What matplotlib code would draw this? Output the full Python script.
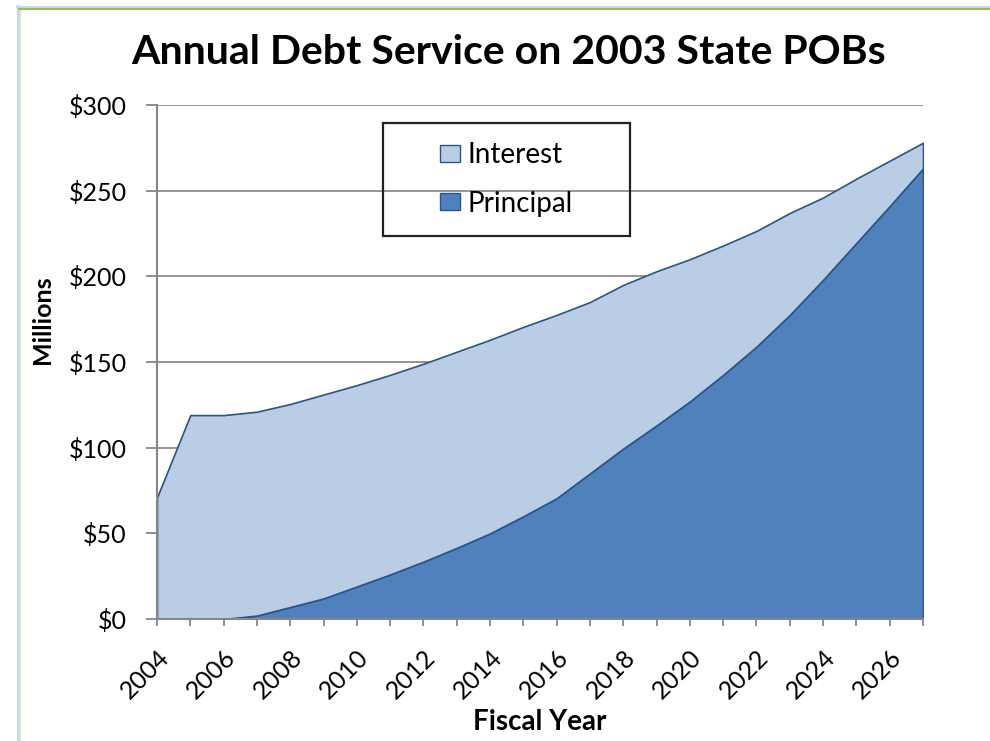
import matplotlib
matplotlib.use('Agg')
import matplotlib.pyplot as plt
from matplotlib.lines import Line2D
from matplotlib.patches import Patch, Rectangle
import numpy as np

# values, $ millions
years = list(range(2004, 2028))
total = [71, 119, 119, 121, 125.5, 131, 136.5, 142.5, 149, 156, 163, 170.5,
         177.5, 185, 195, 203, 210, 218, 226.5, 237, 246, 257, 267.5, 278]
principal = [0, 0, 0, 2, 7, 12, 19, 26, 33.5, 41.5, 50, 60,
             70.5, 85, 99.5, 113, 127, 142.5, 159, 177.5, 198, 219.5, 241, 263]
interest = [t - p for t, p in zip(total, principal)]

c_int = '#B9CDE5'
c_pri = '#4F81BD'
c_edge = '#2C5585'

plt.rcParams['font.family'] = ['Lato', 'DejaVu Sans']

W, H = 990, 741
fig = plt.figure(figsize=(9.9, 7.41), dpi=100)
ax = fig.add_axes([157 / W, 1 - 619 / H, 766 / W, 514 / H])

ax.stackplot(years, principal, interest, colors=[c_pri, c_int],
             edgecolor=c_edge, linewidth=1.2, zorder=2)

ax.set_xlim(2004, 2027)
ax.set_ylim(0, 300)
ax.set_yticks(np.arange(0, 301, 50))
ax.set_yticklabels(['$%d' % v for v in range(0, 301, 50)], fontsize=18)
ax.set_xticks(years, minor=True)
ax.set_xticks(years[::2])
ax.set_xticklabels([str(y) for y in years[::2]], rotation=45, ha='right',
                   rotation_mode='anchor', fontsize=18)
ax.tick_params(axis='x', which='both', length=5, width=1.3, color='#868686',
               direction='out', pad=14)
ax.tick_params(axis='y', length=8, width=1.3, color='#868686', pad=14)
ax.grid(axis='y', color='#8c8c8c', linewidth=1.3, zorder=0)
ax.set_axisbelow(True)
for s in ['top', 'right']:
    ax.spines[s].set_visible(False)
for s in ['left', 'bottom']:
    ax.spines[s].set_color('#868686')
    ax.spines[s].set_linewidth(1.5)

fig.text(509 / W, 1 - 64 / H, 'Annual Debt Service on 2003 State POBs',
         fontsize=29.5, fontweight='bold', ha='center', va='baseline')
fig.text(43 / W, 1 - 320 / H, 'Millions', fontsize=18, fontweight='bold',
         rotation=90, ha='center', va='center')
fig.text(540 / W, 1 - 722 / H, 'Fiscal Year', fontsize=20, fontweight='bold',
         ha='center', va='center')

# legend: see-through box, entries centred
x0 = (383 - 157) / 766
y0 = (619 - 236) / 514
bw = (630 - 383) / 766
bh = (236 - 123) / 514
ax.add_patch(Rectangle((x0, y0), bw, bh, transform=ax.transAxes,
                       facecolor='none', edgecolor='#222222', linewidth=1.6,
                       zorder=5))
handles = [Patch(facecolor=c_int, edgecolor=c_edge, label='Interest'),
           Patch(facecolor=c_pri, edgecolor=c_edge, label='Principal')]
ax.legend(handles=handles, loc='center', bbox_to_anchor=(x0 + bw / 2, y0 + bh / 2),
          fontsize=20, frameon=False, labelspacing=0.8,
          handlelength=0.72, handleheight=0.58, handletextpad=0.25,
          borderaxespad=0, borderpad=0)

# chart frame edges
fig.add_artist(Line2D([17.5 / W, 17.5 / W], [0, 1 - 6 / H], color='#c5d9f1', linewidth=1.5))
fig.add_artist(Line2D([19.5 / W, 19.5 / W], [0, 1 - 8 / H], color='#d7e4bc', linewidth=1.5))
fig.add_artist(Line2D([17 / W, 1], [1 - 6.5 / H, 1 - 6.5 / H], color='#c5d9f1', linewidth=1.5))
fig.add_artist(Line2D([19 / W, 1], [1 - 8.5 / H, 1 - 8.5 / H], color='#9bbb59', linewidth=1.5))

fig.savefig('out.png', dpi=100)
